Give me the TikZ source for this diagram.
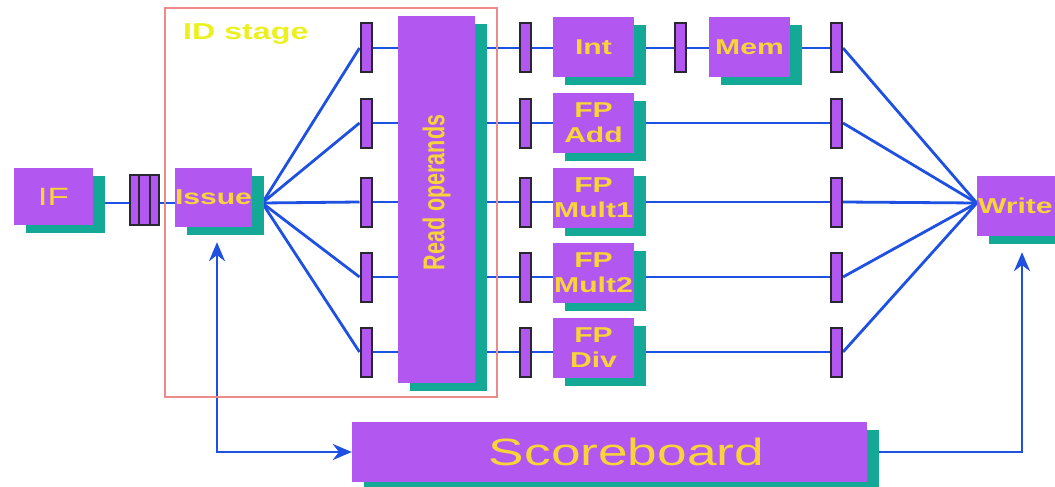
\documentclass[tikz,border=0pt]{standalone}
\usepackage{fontspec}
\setmainfont{Liberation Sans}
\usepackage{graphicx}
\usetikzlibrary{arrows.meta,shadows,backgrounds}

\definecolor{boxpurple}{RGB}{178,88,240}
\definecolor{boxteal}{RGB}{20,168,150}
\definecolor{labelgold}{RGB}{248,212,56}
\definecolor{stagelemon}{RGB}{236,240,30}
\definecolor{wireblue}{RGB}{30,80,225}
\definecolor{framered}{RGB}{238,138,138}
\definecolor{latchedge}{RGB}{40,40,50}

\newcommand{\widetext}[1]{\scalebox{1.4}[1]{#1}}

\tikzset{
  unit/.style={fill=boxpurple, minimum width=81pt, minimum height=60pt, inner sep=0pt,
    text=labelgold, align=center, font=\fontsize{21.5}{25}\selectfont\bfseries,
    general shadow={fill=boxteal, shadow xshift=12pt, shadow yshift=-8pt}},
  latch/.style={fill=boxpurple, draw=latchedge, line width=2pt,
    minimum width=11pt, minimum height=49pt, inner sep=0pt},
  wire/.style={draw=wireblue, line width=2.8pt},
}

\begin{document}
\begin{tikzpicture}[x=1pt,y=-1pt,>={Stealth[length=19pt,width=16pt]}]
            \useasboundingbox (0,0) rectangle (1055,487);
            \draw[framered,line width=2pt] (165,8) rectangle (497,397);
            \node[anchor=west,inner sep=0pt,text=stagelemon,font=\fontsize{23}{27}\selectfont\bfseries] (stagelabel) at (183,34) {\widetext{ID stage}};

            \node[unit,minimum width=79pt,minimum height=57pt,font=\fontsize{25}{30}\selectfont] (if) at (53.5,196.5) {\widetext{IF}};
            \node[latch,minimum width=29pt,minimum height=50pt] (ifid) at (144.5,200) {};
            \draw[latchedge,line width=2pt] ([xshift=10pt]ifid.north west) -- ([xshift=10pt]ifid.south west);
            \draw[latchedge,line width=2pt] ([xshift=-10pt]ifid.north east) -- ([xshift=-10pt]ifid.south east);
            \node[unit,minimum width=77pt,minimum height=59pt] (issue) at (213.5,197.5) {\widetext{Issue}};
            \node[unit,minimum width=77pt,minimum height=367pt] (readop) at (436.5,199.5) {\rotatebox{90}{\hspace*{14pt}\scalebox{1}[1.4]{Read operands}}};

            \node[latch] (la1) at (366,48) {};
            \node[latch] (la2) at (366,123) {};
            \node[latch] (la3) at (366,202) {};
            \node[latch] (la4) at (366,277) {};
            \node[latch] (la5) at (366,352) {};
            \node[latch] (lb1) at (525,48) {};
            \node[latch] (lb2) at (525,123) {};
            \node[latch] (lb3) at (525,202) {};
            \node[latch] (lb4) at (525,277) {};
            \node[latch] (lb5) at (525,352) {};
            \node[latch] (lm) at (680,48) {};
            \node[latch] (lc1) at (836.5,48) {};
            \node[latch] (lc2) at (836.5,123) {};
            \node[latch] (lc3) at (836.5,202) {};
            \node[latch] (lc4) at (836.5,277) {};
            \node[latch] (lc5) at (836.5,352) {};

            \node[unit] (int) at (593.5,47) {\widetext{Int}};
            \node[unit] (mem) at (749.5,47) {\widetext{Mem}};
            \node[unit] (fpadd) at (593.5,122.5) {\widetext{FP}\\\widetext{Add}};
            \node[unit] (fpmulta) at (593.5,197.5) {\widetext{FP}\\\widetext{Mult1}};
            \node[unit] (fpmultb) at (593.5,273) {\widetext{FP}\\\widetext{Mult2}};
            \node[unit] (fpdiv) at (593.5,348) {\widetext{FP}\\\widetext{Div}};
            \node[unit,minimum width=90pt,text width=88pt,inner xsep=1pt,align=left] (write) at (1022,206) {\widetext{Write}};
            \node[unit,minimum width=515pt,minimum height=60pt,font=\fontsize{38}{44}\selectfont] (board) at (609.5,452) {\hspace*{34pt}\widetext{Scoreboard}};

            \coordinate (isout) at ([xshift=10pt,yshift=-5.5pt]issue.east);
            \coordinate (wrin) at ([yshift=3pt]write.west);

            \begin{pgfonlayer}{background}
            \draw[wire] (if.east |- isout) -- (isout);
            \draw[wire] (isout) -- (la1.west);
            \draw[wire] (isout) -- (la2.west);
            \draw[wire] (isout) -- (la3.west);
            \draw[wire] (isout) -- (la4.west);
            \draw[wire] (isout) -- (la5.west);
            \draw[wire] (la1.east) -- (lc1.west);
            \draw[wire] (la2.east) -- (lc2.west);
            \draw[wire] (la3.east) -- (lc3.west);
            \draw[wire] (la4.east) -- (lc4.west);
            \draw[wire] (la5.east) -- (lc5.west);
            \draw[wire] (lc1.east) -- (wrin);
            \draw[wire] (lc2.east) -- (wrin);
            \draw[wire] (lc3.east) -- (wrin);
            \draw[wire] (lc4.east) -- (wrin);
            \draw[wire] (lc5.east) -- (wrin);
            \draw[wire,<->] ([xshift=3.5pt,yshift=-15pt]issue.south) |- (board.west);
            \draw[wire,->] (board.east) -| ([yshift=-16pt]write.south);
            \end{pgfonlayer}
        \end{tikzpicture}
\end{document}
